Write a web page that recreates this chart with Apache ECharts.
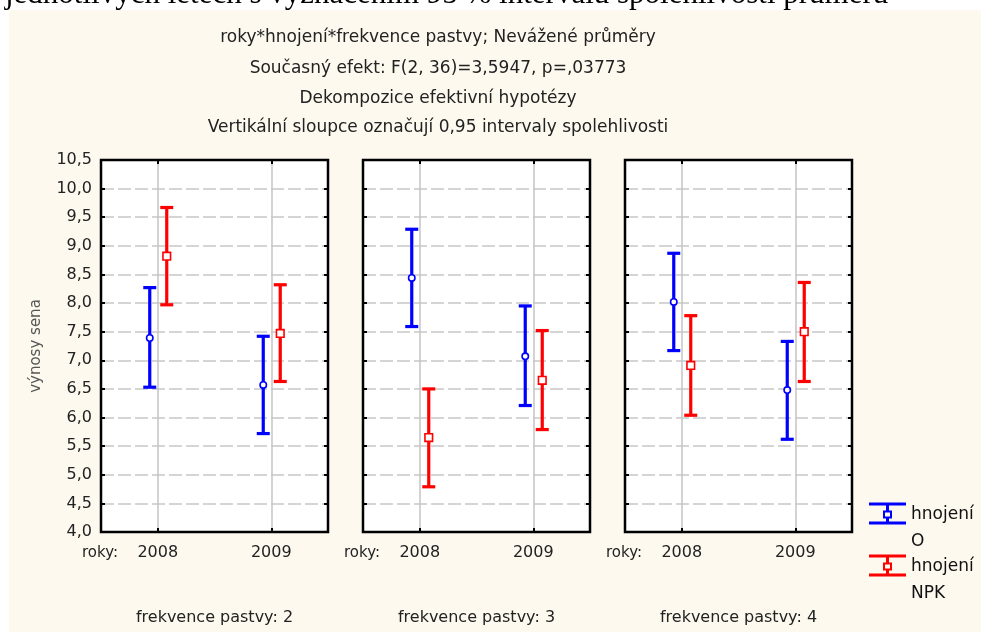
<!DOCTYPE html>
<html><head><meta charset="utf-8">
<script src="https://cdn.jsdelivr.net/npm/echarts@6/dist/echarts.min.js"></script>
<style>html,body{margin:0;padding:0;background:#fff}#c{width:981px;height:632px}</style>
</head><body><div id="c"></div>
<script>
// ---- data ----
const years = ['2008', '2009'];
const grazingFreq = ['2', '3', '4'];
const seriesNames = ['hnojení\nO', 'hnojení\nNPK'];
const titleLines = [
  'roky*hnojení*frekvence pastvy; Nevážené průměry',
  'Současný efekt: F(2, 36)=3,5947, p=,03773',
  'Dekompozice efektivní hypotézy',
  'Vertikální sloupce označují 0,95 intervaly spolehlivosti'
];
const docText = 'jednotlivých letech s vyznačením 95 % intervalů spolehlivosti průměrů';
const yName = 'výnosy sena';
const xName = 'roky:';
const panelPrefix = 'frekvence pastvy: ';
const yMin = 4.0, yMax = 10.5, yStep = 0.5;
// panel-major order: [p2-2008, p2-2009, p3-2008, p3-2009, p4-2008, p4-2009]
const blueMean = [7.39, 6.57, 8.44, 7.07, 8.02, 6.48];
const blueLow  = [6.53, 5.72, 7.59, 6.21, 7.17, 5.62];
const blueHigh = [8.27, 7.42, 9.29, 7.95, 8.87, 7.33];
const redMean  = [8.82, 7.47, 5.65, 6.65, 6.91, 7.50];
const redLow   = [7.97, 6.63, 4.79, 5.79, 6.04, 6.63];
const redHigh  = [9.67, 8.32, 6.50, 7.52, 7.78, 8.36];

// ---- layout / style ----
const FONT = 'DejaVu Sans';
const BLUE = '#0000ff', RED = '#ff0000';
const gridLefts = [101, 363, 625];
const gridTop = 160, gridW = 227, gridH = 372;

const chart = echarts.init(document.getElementById('c'), null, {renderer: 'canvas'});

function makeRender(dx, markerType) {
  return function (params, api) {
    const c = api.value(0);
    const hi = api.coord([c, api.value(2)]);
    const lo = api.coord([c, api.value(1)]);
    const mid = api.coord([c, api.value(3)]);
    const cx = mid[0] + dx;
    const color = api.visual('color');
    const hw = 6.5;
    const ls = {stroke: color, lineWidth: 3.2, fill: null};
    const children = [
      {type: 'line', shape: {x1: cx, y1: hi[1], x2: cx, y2: lo[1]}, style: ls},
      {type: 'line', shape: {x1: cx - hw, y1: hi[1], x2: cx + hw, y2: hi[1]}, style: ls},
      {type: 'line', shape: {x1: cx - hw, y1: lo[1], x2: cx + hw, y2: lo[1]}, style: ls}
    ];
    if (markerType === 'circle') {
      children.push({type: 'circle', shape: {cx: cx, cy: mid[1], r: 3.2},
        style: {fill: '#fff', stroke: color, lineWidth: 1.6}});
    } else {
      children.push({type: 'rect', shape: {x: cx - 3.8, y: mid[1] - 3.8, width: 7.6, height: 7.6},
        style: {fill: '#fff', stroke: color, lineWidth: 1.6}});
    }
    return {type: 'group', children: children};
  };
}

const grids = [], xAxes = [], yAxes = [], series = [];
gridLefts.forEach(function (left, p) {
  grids.push({left: left, top: gridTop, width: gridW, height: gridH, show: true,
    backgroundColor: '#fff', borderColor: '#000', borderWidth: 2.5});
  xAxes.push({type: 'category', gridIndex: p, data: years, position: 'bottom', boundaryGap: true,
    axisLine: {show: false},
    axisTick: {show: true, inside: true, alignWithLabel: true, length: 4, lineStyle: {color: '#000', width: 2}},
    axisLabel: {fontFamily: FONT, fontSize: 16, color: '#222', margin: 13},
    splitLine: {show: true, alignWithLabel: true, lineStyle: {color: '#c4c4c4', width: 1.5}}});
  xAxes.push({type: 'category', gridIndex: p, data: years, position: 'top', boundaryGap: true,
    axisLine: {show: false},
    axisTick: {show: true, inside: true, alignWithLabel: true, length: 4, lineStyle: {color: '#000', width: 2}},
    axisLabel: {show: false}, splitLine: {show: false}});
  yAxes.push({type: 'value', gridIndex: p, min: yMin, max: yMax, interval: yStep, position: 'left',
    name: p === 0 ? yName : '', nameLocation: 'middle', nameGap: 57,
    nameTextStyle: {fontFamily: FONT, fontSize: 15, color: '#555'},
    axisLine: {show: false},
    axisTick: {show: true, inside: true, length: 4, lineStyle: {color: '#000', width: 2}},
    axisLabel: {show: p === 0, fontFamily: FONT, fontSize: 16, color: '#222', margin: 9,
      formatter: function (v) { return v.toFixed(1).replace('.', ','); }},
    splitLine: {show: true, showMinLine: false, showMaxLine: false,
      lineStyle: {color: '#c8c8c8', width: 1.5, type: [13, 4]}}});
  yAxes.push({type: 'value', gridIndex: p, min: yMin, max: yMax, interval: yStep, position: 'right',
    axisLine: {show: false},
    axisTick: {show: true, inside: true, length: 4, lineStyle: {color: '#000', width: 2}},
    axisLabel: {show: false}, splitLine: {show: false}});
  const idx = [p * 2, p * 2 + 1];
  series.push({type: 'custom', name: seriesNames[0], xAxisIndex: p * 2, yAxisIndex: p * 2,
    itemStyle: {color: BLUE}, renderItem: makeRender(-8, 'circle'), encode: {x: 0, y: [1, 2, 3]},
    data: idx.map(function (k, i) { return [i, blueLow[k], blueHigh[k], blueMean[k]]; })});
  series.push({type: 'custom', name: seriesNames[1], xAxisIndex: p * 2, yAxisIndex: p * 2,
    itemStyle: {color: RED}, renderItem: makeRender(9, 'square'), encode: {x: 0, y: [1, 2, 3]},
    data: idx.map(function (k, i) { return [i, redLow[k], redHigh[k], redMean[k]]; })});
});

const iconPath = 'path://M0,0H37V3H0Z M17,3H20V8H17Z M14,8H23V16H14Z M16,10V14H21V10Z M17,16H20V19H17Z M0,19H37V22H0Z M0,51L0.01,51';

const graphics = [
  {type: 'rect', z: -100, shape: {x: 9, y: 10, width: 972, height: 622}, style: {fill: '#fdf9ef'}},
  {type: 'text', z: -50, x: 5, y: -5, style: {text: docText, font: '31px "Liberation Serif"', fill: '#000',
    textVerticalAlign: 'middle', verticalAlign: 'middle'}}
];
const titleYs = [38, 69, 99, 128];
titleLines.forEach(function (t, i) {
  graphics.push({type: 'text', x: 438, y: titleYs[i], style: {text: t, font: '17px "DejaVu Sans"', fill: '#222',
    align: 'center', verticalAlign: 'middle', textAlign: 'center', textVerticalAlign: 'middle'}});
});
gridLefts.forEach(function (left, p) {
  graphics.push({type: 'text', x: left + 17, y: 553, style: {text: xName, font: '15px "DejaVu Sans"', fill: '#222',
    align: 'right', verticalAlign: 'middle', textAlign: 'right', textVerticalAlign: 'middle'}});
  graphics.push({type: 'text', x: left + gridW / 2, y: 618, style: {text: panelPrefix + grazingFreq[p],
    font: '16px "DejaVu Sans"', fill: '#222', align: 'center', verticalAlign: 'middle',
    textAlign: 'center', textVerticalAlign: 'middle'}});
});

chart.setOption({
  animation: false,
  backgroundColor: '#ffffff',
  textStyle: {fontFamily: FONT},
  grid: grids, xAxis: xAxes, yAxis: yAxes, series: series,
  legend: {orient: 'vertical', left: 864, top: 496, itemWidth: 37, itemHeight: 51, itemGap: -2,
    selectedMode: false,
    data: [{name: seriesNames[0], icon: iconPath}, {name: seriesNames[1], icon: iconPath}],
    textStyle: {fontFamily: FONT, fontSize: 17, color: '#111', lineHeight: 27}},
  graphic: graphics
});
</script></body></html>
